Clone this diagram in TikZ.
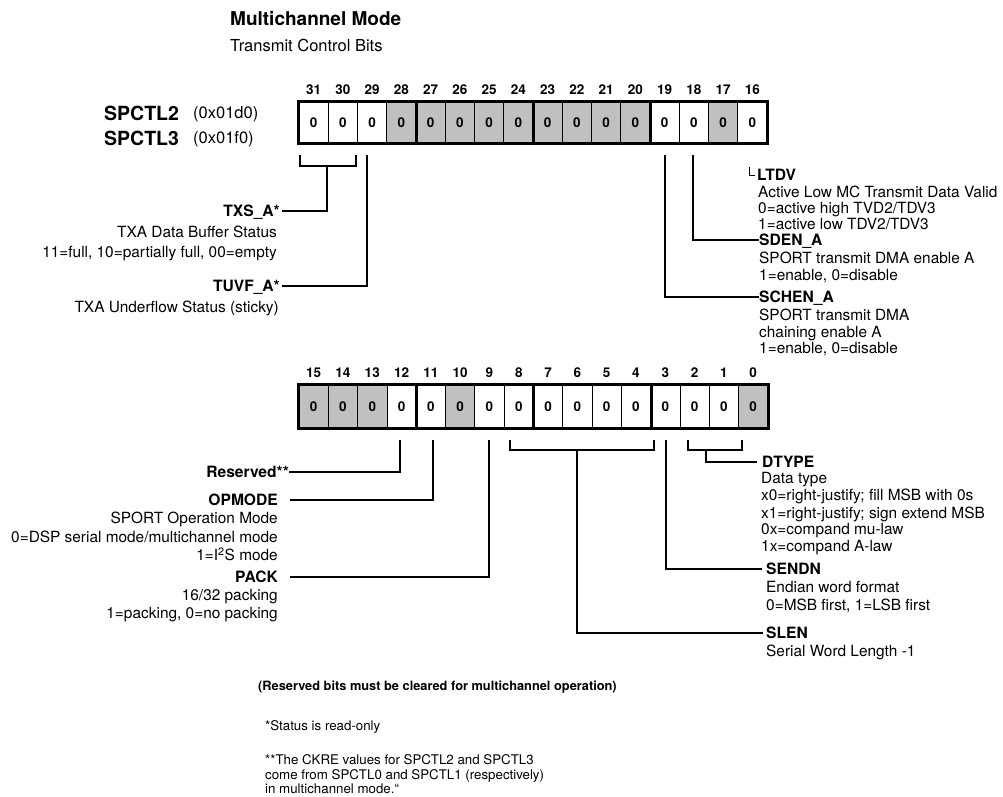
\documentclass[tikz,border=0pt]{standalone}
\usepackage{fontspec}
\setmainfont{TeX Gyre Heros}
\definecolor{regg}{RGB}{192,192,192}
\begin{document}
\begin{tikzpicture}[x=1pt,y=-1pt,
 txt/.style={inner sep=0pt,font=\fontsize{15.4}{17}\selectfont,text height=11pt,text depth=0pt},
 btxt/.style={inner sep=0pt,font=\fontsize{15.6}{17}\selectfont\bfseries,text height=11.2pt,text depth=0pt},
 ftxt/.style={inner sep=0pt,font=\fontsize{13.3}{15}\selectfont,text height=9.6pt,text depth=0pt},
 bitnum/.style={inner sep=0pt,font=\fontsize{13.5}{15}\selectfont\bfseries,text height=9.7pt,text depth=0pt},
 cell/.style={draw,line width=0.8pt,minimum width=29.25pt,minimum height=41pt,inner sep=0pt,font=\fontsize{13.5}{15}\selectfont\bfseries},
 bcell/.style={cell,minimum width=29.3pt,minimum height=43pt},
 conn/.style={line width=1.3pt},
 sepline/.style={line width=3pt},
 regname/.style={inner sep=0pt,font=\fontsize{19.5}{21}\selectfont\bfseries,text height=14pt,text depth=0pt},
 regaddr/.style={inner sep=0pt,font=\fontsize{16.5}{18}\selectfont,text height=11.9pt,text depth=0pt}
]
\useasboundingbox[fill=white] (0,0) rectangle (1003,796);

% titles
\node[inner sep=0pt,anchor=west,font=\fontsize{19}{21}\selectfont\bfseries,text height=13.7pt,text depth=0pt] (title) at (230,19) {Multichannel Mode};
\node[inner sep=0pt,anchor=west,font=\fontsize{16.5}{18}\selectfont,text height=11.9pt,text depth=0pt] (subtitle) at (230,46) {Transmit Control Bits};

% register names
\node[regname,anchor=west] (sp2) at (104,113) {SPCTL2};
\node[regaddr,anchor=west] (sp2a) at (193,113) {(0x01d0)};
\node[regname,anchor=west] (sp3) at (104,138) {SPCTL3};
\node[regaddr,anchor=west] (sp3a) at (193,138) {(0x01f0)};

% upper register (bits 31..16)
\foreach \b/\f in {31/white,30/white,29/white,28/regg,27/regg,26/regg,25/regg,24/regg,23/regg,22/regg,21/regg,20/regg,19/white,18/white,17/regg,16/white}{
  \node[cell,fill=\f] (t\b) at ({299+(31-\b+0.5)*29.25},122.5) {0};
  \node[bitnum] (tn\b) at ({299+(31-\b+0.5)*29.25},90) {\b};
}
\draw[sepline] (t31.north west) rectangle (t16.south east);
\draw[sepline] (t28.north east) -- (t28.south east);
\draw[sepline] (t24.north east) -- (t24.south east);
\draw[sepline] (t20.north east) -- (t20.south east);

% lower register (bits 15..0)
\foreach \b/\f in {15/regg,14/regg,13/regg,12/white,11/white,10/regg,9/white,8/white,7/white,6/white,5/white,4/white,3/white,2/white,1/white,0/regg}{
  \node[bcell,fill=\f] (b\b) at ({299+(15-\b+0.5)*29.3},406.5) {0};
  \node[bitnum] (bn\b) at ({299+(15-\b+0.5)*29.3},373) {\b};
}
\draw[sepline] (b15.north west) rectangle (b0.south east);
\draw[sepline] (b12.north east) -- (b12.south east);
\draw[sepline] (b8.north east) -- (b8.south east);
\draw[sepline] (b4.north east) -- (b4.south east);

% upper left labels
\node[btxt,anchor=east] (txs) at (280,211) {TXS\_A*};
\node[txt,anchor=east] (txs1) at (277,232) {TXA Data Buffer Status};
\node[txt,anchor=east] (txs2) at (277,252) {11=full, 10=partially full, 00=empty};
\node[btxt,anchor=east] (tuvf) at (280,286) {TUVF\_A*};
\node[txt,anchor=east] (tuvf1) at (279,307) {TXA Underflow Status (sticky)};

\draw[conn] (300,155) -- (300,166) -- (356,166) -- (356,155);
\draw[conn] (327,166) |- ([xshift=2pt]txs.east);
\draw[conn] (367,155) |- ([xshift=2pt]tuvf.east);

% upper right labels
\node[btxt,anchor=west] (ltdv) at (757,175) {LTDV};
\node[txt,anchor=west] (ltdv1) at (758,192) {Active Low MC Transmit Data Valid};
\node[txt,anchor=west] (ltdv2) at (758,208) {0=active high TVD2/TDV3};
\node[txt,anchor=west] (ltdv3) at (758,224) {1=active low TDV2/TDV3};
\node[btxt,anchor=west] (sden) at (759,240) {SDEN\_A};
\node[txt,anchor=west] (sden1) at (759,258) {SPORT transmit DMA enable A};
\node[txt,anchor=west] (sden2) at (759,275) {1=enable, 0=disable};
\node[btxt,anchor=west] (schen) at (759,297) {SCHEN\_A};
\node[txt,anchor=west] (schen1) at (759,315) {SPORT transmit DMA};
\node[txt,anchor=west] (schen2) at (759,332) {chaining enable A};
\node[txt,anchor=west] (schen3) at (759,348) {1=enable, 0=disable};

\draw[line width=1pt] (749,167) |- ([xshift=-2pt]ltdv.west);
\draw[conn] (693,155) |- (sden.west);
\draw[conn] (665,155) |- (schen.west);

% lower left labels
\node[btxt,anchor=east] (res) at (289,472) {Reserved**};
\node[btxt,anchor=east] (opm) at (278,500) {OPMODE};
\node[txt,anchor=east] (opm1) at (278,518) {SPORT Operation Mode};
\node[txt,anchor=east] (opm2) at (278,537) {0=DSP serial mode/multichannel mode};
\node[txt,anchor=east] (opm3) at (278,555) {1=I\textsuperscript{2}S mode};
\node[btxt,anchor=east] (pack) at (278,577) {PACK};
\node[txt,anchor=east] (pack1) at (278,595) {16/32 packing};
\node[txt,anchor=east] (pack2) at (278,613) {1=packing, 0=no packing};

\draw[conn] (400,440) |- (res.east);
\draw[conn] (433,440) |- ([xshift=12pt]opm.east);
\draw[conn] (489,440) |- ([xshift=12pt]pack.east);

% lower right labels
\node[btxt,anchor=west] (dtype) at (762,462) {DTYPE};
\node[txt,anchor=west] (dtype1) at (761,478) {Data type};
\node[txt,anchor=west] (dtype2) at (761,495) {x0=right-justify; fill MSB with 0s};
\node[txt,anchor=west] (dtype3) at (761,513) {x1=right-justify; sign extend MSB};
\node[txt,anchor=west] (dtype4) at (761,529) {0x=compand mu-law};
\node[txt,anchor=west] (dtype5) at (761,546) {1x=compand A-law};
\node[btxt,anchor=west] (sendn) at (766,569) {SENDN};
\node[txt,anchor=west] (sendn1) at (766,587) {Endian word format};
\node[txt,anchor=west] (sendn2) at (766,605) {0=MSB first, 1=LSB first};
\node[btxt,anchor=west] (slen) at (766,633) {SLEN};
\node[txt,anchor=west] (slen1) at (766,651) {Serial Word Length -1};

\draw[conn] (510,440) -- (510,450) -- (654,450) -- (654,440);
\draw[conn] (577,450) |- ([xshift=-3pt]slen.west);
\draw[conn] (666,440) |- ([xshift=-4pt]sendn.west);
\draw[conn] (688,440) -- (688,450) -- (742,450) -- (742,440);
\draw[conn] (706,450) |- ([xshift=-5pt]dtype.west);

% notes
\node[inner sep=0pt,anchor=west,font=\fontsize{12.8}{15}\selectfont\bfseries,text height=9.3pt,text depth=0pt] (note) at (258,686) {(Reserved bits must be cleared for multichannel operation)};
\node[ftxt,anchor=west] (fn1) at (265,726) {*Status is read-only};
\node[ftxt,anchor=west] (fn2) at (265,760) {**The CKRE values for SPCTL2 and SPCTL3};
\node[ftxt,anchor=west] (fn3) at (265,775) {come from SPCTL0 and SPCTL1 (respectively)};
\node[ftxt,anchor=west] (fn4) at (265,789) {in multichannel mode.``};
\end{tikzpicture}
\end{document}
